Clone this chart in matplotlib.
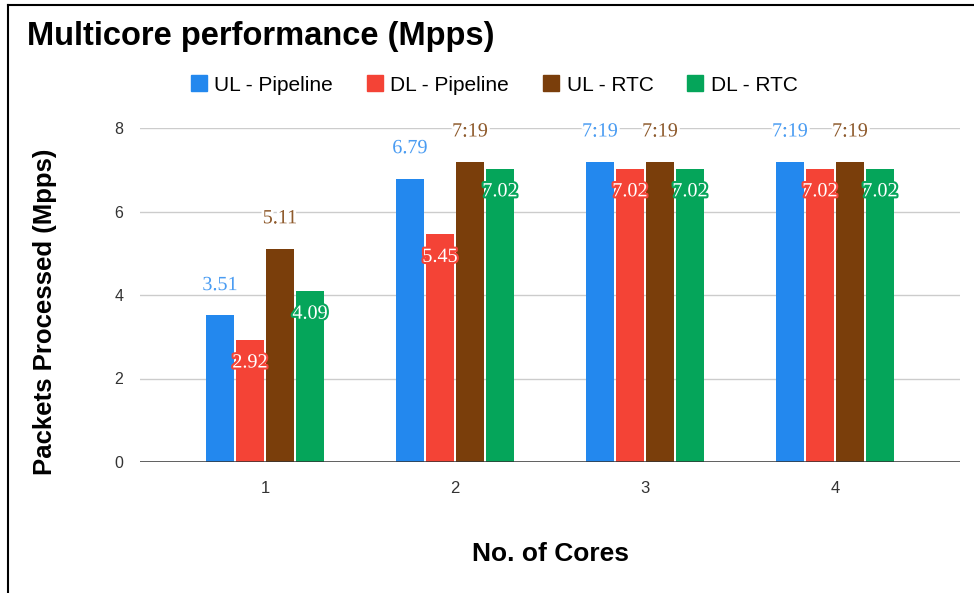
import matplotlib
matplotlib.use("Agg")
import matplotlib.pyplot as plt
import matplotlib.patheffects as pe
from matplotlib.lines import Line2D
import numpy as np

cores = ["1", "2", "3", "4"]
series_names = ["UL - Pipeline", "DL - Pipeline", "UL - RTC", "DL - RTC"]
ul_pipeline = [3.51, 6.79, 7.19, 7.19]
dl_pipeline = [2.92, 5.45, 7.02, 7.02]
ul_rtc = [5.11, 7.19, 7.19, 7.19]
dl_rtc = [4.09, 7.02, 7.02, 7.02]
ul_pipeline_labels = ["3.51", "6.79", "7:19", "7:19"]
dl_pipeline_labels = ["2.92", "5.45", "7.02", "7.02"]
ul_rtc_labels = ["5.11", "7:19", "7:19", "7:19"]
dl_rtc_labels = ["4.09", "7.02", "7.02", "7.02"]
y_ticks = [0, 2, 4, 6, 8]

bar_colors = ["#2388EE", "#F44336", "#7A3E0B", "#05A55A"]
label_colors = ["#4A9CF2", None, "#8E5A2C", None]

values = [ul_pipeline, dl_pipeline, ul_rtc, dl_rtc]
labels = [ul_pipeline_labels, dl_pipeline_labels, ul_rtc_labels, dl_rtc_labels]

sans = ["Liberation Sans", "DejaVu Sans"]
serif = ["Liberation Serif", "DejaVu Serif"]

fig = plt.figure(figsize=(9.74, 5.93), dpi=100)
ax = fig.add_axes([140 / 974, 1 - 462 / 593, 820 / 974, (462 - 128) / 593])

x = np.arange(len(cores))
width = 0.147
step = 0.158
for i, (vals, labs) in enumerate(zip(values, labels)):
    pos = x + (i - 1.5) * step
    ax.bar(pos, vals, width, color=bar_colors[i], zorder=3, label=series_names[i])
    for xp, v, t in zip(pos, vals, labs):
        if label_colors[i] is not None:
            ax.annotate(t, (xp, v), xytext=(0, 21.5), textcoords="offset points",
                        ha="center", va="center", fontsize=14.5,
                        family=serif, color=label_colors[i], zorder=5,
                        annotation_clip=False,
                        path_effects=[pe.withStroke(linewidth=4, foreground="white")])
        else:
            ax.annotate(t, (xp, v), xytext=(0, -16.5), textcoords="offset points",
                        ha="center", va="center", fontsize=14.5,
                        family=serif, color="white", zorder=5,
                        path_effects=[pe.withStroke(linewidth=3, foreground=bar_colors[i])])

ax.set_xlim(-0.658, 3.658)
ax.set_ylim(0, 8)
ax.set_yticks(y_ticks)
ax.set_yticklabels([str(t) for t in y_ticks], family=sans, fontsize=11.5, color="#333333")
ax.set_xticks(x)
ax.set_xticklabels(cores, family=sans, fontsize=12, color="#333333")
ax.tick_params(axis="both", length=0)
ax.tick_params(axis="y", pad=12)
ax.tick_params(axis="x", pad=14)
ax.grid(axis="y", color="#CCCCCC", linewidth=1, zorder=0)
for s in ax.spines.values():
    s.set_visible(False)
ax.axhline(0, color="#333333", linewidth=1.8, zorder=4)

ax.set_ylabel("Packets Processed (Mpps)", family=sans, fontsize=18.5,
              fontweight="bold", color="black")
ax.yaxis.set_label_coords(-0.101, 0.449)
ax.set_xlabel("No. of Cores", family=sans, fontsize=19, fontweight="bold",
              color="black", labelpad=33)

fig.text(27 / 974, 1 - 36 / 593, "Multicore performance (Mpps)", family=sans,
         fontsize=23.5, fontweight="bold", va="center", ha="left")

handles = [Line2D([], [], marker="s", linestyle="none", markersize=11,
                  markerfacecolor=c, markeredgecolor=c) for c in bar_colors]
fig.legend(handles, series_names, loc="center", bbox_to_anchor=(493 / 974, 1 - 85 / 593),
           ncol=4, frameon=False, prop={"family": sans, "size": 15},
           handletextpad=0.25, columnspacing=1.5, handlelength=1.0)

# frame lines along the top and left edge
fig.add_artist(Line2D([8 / 974, 1], [1 - 5 / 593, 1 - 5 / 593], color="black",
                      linewidth=1.5, transform=fig.transFigure))
fig.add_artist(Line2D([8 / 974, 8 / 974], [0, 1 - 5 / 593], color="black",
                      linewidth=1.5, transform=fig.transFigure))

fig.savefig("out.png", dpi=100, facecolor="white")
